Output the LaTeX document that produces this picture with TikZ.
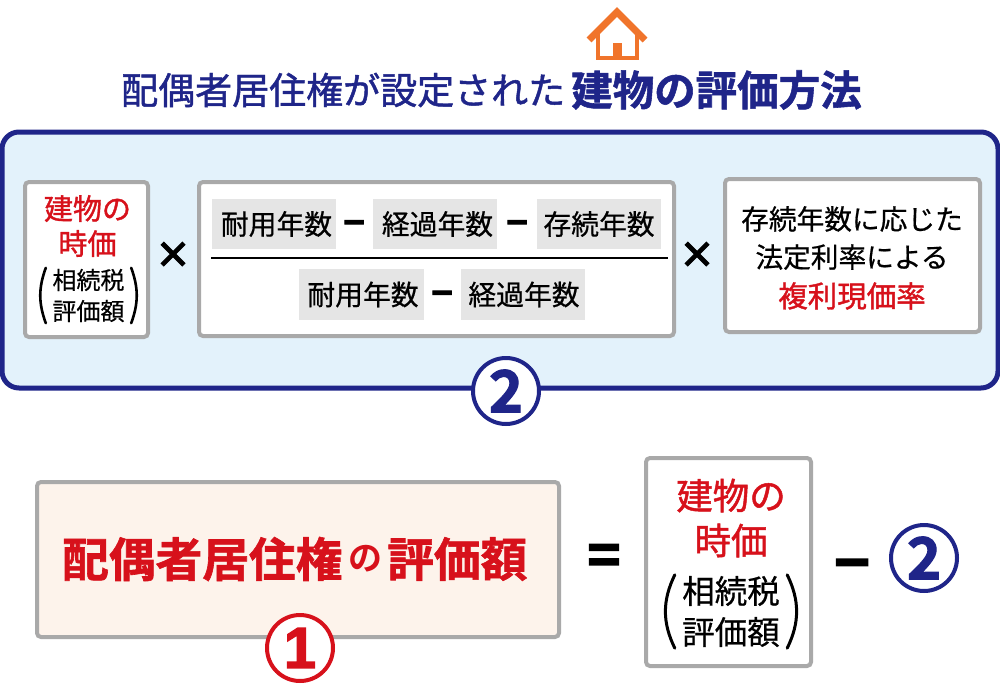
\documentclass[tikz,border=0pt]{standalone}
\usepackage{fontspec}
\setmainfont[FakeBold=0.6]{Noto Sans CJK JP}
\newfontfamily\jpmed[FakeBold=1.3]{Noto Sans CJK JP}
\newfontfamily\jpblack[FakeBold=1.3]{Noto Sans CJK JP Bold}
\newfontfamily\jpheavy{Noto Sans CJK JP Bold}
\newfontfamily\jpsign[FakeBold=3]{Noto Sans CJK JP Bold}
\newfontfamily\jpdigit[FakeBold=2]{Noto Sans CJK JP Bold}
\newfontfamily\onefont[FakeBold=2.5]{Liberation Sans Bold}
\newcommand{\fsz}[1]{\fontsize{#1}{#1}\selectfont}
\definecolor{navy}{HTML}{1F2589}
\definecolor{paleblue}{HTML}{E3F2FB}
\definecolor{palecream}{HTML}{FDF3EB}
\definecolor{boxgray}{HTML}{A9A9A9}
\definecolor{chipgray}{HTML}{E5E5E5}
\definecolor{redtxt}{HTML}{D7111B}
\definecolor{houseorange}{HTML}{F0742B}
\usetikzlibrary{positioning}
\tikzset{
  graybox/.style={draw=boxgray,line width=4pt,fill=white,rounded corners=4pt,inner sep=0pt},
  chip/.style={fill=chipgray,minimum width=124pt,minimum height=50pt,inner sep=0pt,font=\fsz{27.8}},
  nudge/.style={execute at begin node={\kern #1pt}},
  opsign/.style={font=\jpsign\fsz{#1},inner sep=0pt},
  numring/.style={circle,draw=#1,text=#1,fill=white,line width=4pt,minimum size=66pt,inner sep=0pt,font=\jpdigit\fsz{58}},
  paren/.style={line width=#1,line cap=round},
}
\begin{document}
\begin{tikzpicture}[x=1pt,y=-1pt]
  \useasboundingbox (0,0) rectangle (1000,690);

  % house
  \draw[houseorange,line width=7pt] (589,40) -- (617,12) -- (645,40);
  \draw[houseorange,line width=4pt] (598,30) -- (598,58) -- (637,58) -- (637,30);
  \fill[houseorange] (613,43) rectangle (622,58);

  % title
  \node[anchor=west,inner sep=0pt,text=navy,font=\jpmed\fsz{37}] (titlea) at (121,90) {配偶者居住権が設定された};
  \node[anchor=west,inner sep=0pt,text=navy,font=\jpblack\fsz{41.5}] (titleb) at (571,90) {建物の評価方法};

  % upper panel
  \node[draw=navy,fill=paleblue,line width=5pt,rounded corners=17pt,minimum width=996pt,minimum height=256pt,inner sep=0pt] (panel) at (500,260) {};
  \node[graybox,minimum width=123pt,minimum height=155pt] (valuebox) at (86.5,259.5) {};
  \node[graybox,minimum width=475pt,minimum height=154pt] (fracbox) at (436.5,259) {};
  \node[graybox,minimum width=255pt,minimum height=153pt] (ratebox) at (852.5,255.5) {};

  \node[align=center,text=redtxt,font=\jpmed\fsz{29},inner sep=0pt,execute at begin node={\setlength{\baselineskip}{35pt}}] (valuea) at (87.5,226) {建物の\\時価};
  \node[align=center,minimum width=85pt,minimum height=55pt,inner sep=0pt,font=\fsz{24},execute at begin node={\setlength{\baselineskip}{31pt}}] (taxa) at (88.5,295.5) {相続税\\評価額};
  \draw[paren=2.6pt] (taxa.north west) to[bend right=20] (taxa.south west);
  \draw[paren=2.6pt] (taxa.north east) to[bend left=20] (taxa.south east);

  \node[opsign=36] (timesa) at (173,255) {×};
  \node[opsign=36] (timesb) at (697,255) {×};

  % fraction
  \node[chip,nudge=5] (usea) at (274,224) {耐用年数};
  \node[chip,nudge=5] (pasta) at (435,224) {経過年数};
  \node[chip] (lasta) at (599,224) {存続年数};
  \node[chip,nudge=3,minimum width=125pt,minimum height=51pt] (useb) at (361.5,294.5) {耐用年数};
  \node[chip,nudge=2,minimum height=51pt] (pastb) at (523,294.5) {経過年数};
  \node[opsign=36] (minusa) at (354,228) {−};
  \node[opsign=36] (minusb) at (517,228) {−};
  \node[opsign=36] (minusc) at (442,298.5) {−};
  \coordinate (barl) at (211,258);
  \coordinate (barr) at (668,258);
  \draw[line width=1.6pt] (barl) -- (barr);

  \node[align=center,font=\fsz{27.7},inner sep=0pt,execute at begin node={\setlength{\baselineskip}{38pt}}] (ratea) at (852,238) {存続年数に応じた\\法定利率による};
  \node[text=redtxt,font=\jpmed\fsz{29.5},inner sep=0pt] (rateb) at (852,296) {複利現価率};

  \node[numring=navy] (ringa) at (506,391) {2};

  % lower row
  \node[graybox,fill=palecream,minimum width=522pt,minimum height=155pt] (resultbox) at (298,559.5) {};
  \node[anchor=west,inner sep=0pt,text=redtxt,font=\jpblack\fsz{46.7}] (resulta) at (62,559) {配偶者居住権};
  \node[anchor=west,inner sep=0pt,text=redtxt,font=\jpheavy\fsz{34}] (resultb) at (348,559) {の};
  \node[anchor=west,inner sep=0pt,text=redtxt,font=\jpblack\fsz{46.7}] (resultc) at (387,559) {評価額};
  \node[numring=redtxt,font=\onefont\fsz{58}] (ringb) at (300,648) {1};

  \node[opsign=56] (equals) at (604,560) {=};
  \node[graybox,minimum width=165pt,minimum height=208pt] (valuebig) at (728.5,562) {};
  \node[align=center,text=redtxt,font=\jpmed\fsz{36.5},inner sep=0pt,execute at begin node={\setlength{\baselineskip}{45pt}}] (valuec) at (731,518) {建物の\\時価};
  \node[align=center,minimum width=112pt,minimum height=73pt,inner sep=0pt,font=\fsz{32.5},execute at begin node={\setlength{\baselineskip}{41pt}}] (taxb) at (731,611.5) {相続税\\評価額};
  \draw[paren=3pt] (taxb.north west) to[bend right=26] (taxb.south west);
  \draw[paren=3pt] (taxb.north east) to[bend left=26] (taxb.south east);
  \node[opsign=60] (minusd) at (852,572) {−};
  \node[numring=navy] (ringc) at (924,558) {2};
\end{tikzpicture}
\end{document}
